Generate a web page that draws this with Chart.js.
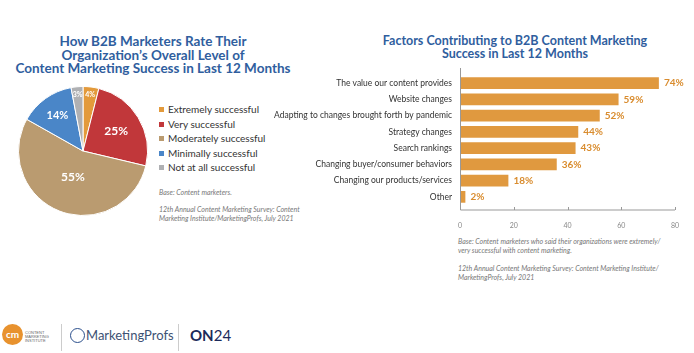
<!DOCTYPE html>
<html>
<head>
<meta charset="utf-8">
<script src="https://cdn.jsdelivr.net/npm/chart.js@4"></script>
<style>
  body { margin: 0; width: 694px; height: 353px; background: #fff; position: relative; overflow: hidden; font-family: Lato, "Open Sans", sans-serif; }
  .abs { position: absolute; }
  .title { color: #2f5e9e; font-weight: bold; text-align: center; white-space: nowrap; }
  .note { color: #777; font-style: italic; font-size: 7px; line-height: 8.5px; white-space: nowrap; }
  .legend div { height: 14.5px; line-height: 14.5px; font-size: 10px; color: #333; white-space: nowrap; }
  .legend span { display: inline-block; width: 5px; height: 5px; margin-right: 4px; vertical-align: 1px; }
</style>
</head>
<body>

<div class="abs title" style="left:0;width:306px;top:35px;font-size:13.5px;line-height:13.5px;">
  How B2B Marketers Rate Their<br>Organization’s Overall Level of<br>Content Marketing Success in Last 12 Months
</div>
<div class="abs title" style="left:340px;width:350px;top:34px;font-size:12.5px;line-height:13px;">
  Factors Contributing to B2B Content Marketing<br>Success in Last 12 Months
</div>

<canvas id="pie" class="abs" width="130" height="130" style="left:18px;top:86px;"></canvas>
<div id="legend" class="abs legend" style="left:159px;top:102px;"></div>
<div class="abs note" style="left:159px;top:188px;">Base: Content marketers.</div>
<div class="abs note" style="left:159px;top:205px;">12th Annual Content Marketing Survey: Content<br>Marketing Institute/MarketingProfs, July 2021</div>

<canvas id="bars" class="abs" width="424" height="170" style="left:270px;top:60px;"></canvas>
<div class="abs note" style="left:458px;top:237px;">Base: Content marketers who said their organizations were extremely/<br>very successful with content marketing.</div>
<div class="abs note" style="left:458px;top:264px;">12th Annual Content Marketing Survey: Content Marketing Institute/<br>MarketingProfs, July 2021</div>

<!-- logos -->
<div class="abs" style="left:2px;top:324px;width:21px;height:21px;border-radius:50%;background:#e8922e;color:#fff;font:bold 10px Lato;text-align:center;line-height:20px;">cm</div>
<div class="abs" style="left:25px;top:331px;font:4px/4px Arial;color:#666;">CONTENT<br>MARKETING<br>INSTITUTE</div>
<div class="abs" style="left:61px;top:324px;width:1px;height:27px;background:#ccc;"></div>
<div class="abs" style="left:70px;top:328px;width:13px;height:13px;border-radius:50%;border:1.5px solid #2b4f8c;background:#fff;"></div>
<div class="abs" style="left:86px;top:327px;font:13px Lato;color:#3d5274;">MarketingProfs</div>
<div class="abs" style="left:178px;top:324px;width:1px;height:27px;background:#ccc;"></div>
<div class="abs" style="left:190px;top:326px;font:15px Lato;color:#1c2a5a;"><b>ON</b>24</div>

<script>
const pieLabels = ['Extremely successful', 'Very successful', 'Moderately successful', 'Minimally successful', 'Not at all successful'];
const pieValues = [4, 25, 55, 14, 3];
const pieColors = ['#e39a3b', '#c1373a', '#ba9b70', '#4a86c8', '#afb0b3'];

const factors = ['The value our content provides', 'Website changes', 'Adapting to changes brought forth by pandemic',
  'Strategy changes', 'Search rankings', 'Changing buyer/consumer behaviors', 'Changing our products/services', 'Other'];
const factorValues = [74, 59, 52, 44, 43, 36, 18, 2];
const xTicks = [0, 20, 40, 60, 80];

// legend
const leg = document.getElementById('legend');
pieLabels.forEach((l, i) => {
  const d = document.createElement('div');
  d.innerHTML = '<span style="background:' + pieColors[i] + '"></span>' + l;
  leg.appendChild(d);
});

// labels inside slices
const sliceLabels = {
  id: 'sliceLabels',
  afterDatasetsDraw(chart, args, opts) {
    const c = chart.ctx;
    chart.getDatasetMeta(0).data.forEach((arc, i) => {
      const mid = (arc.startAngle + arc.endAngle) / 2;
      const r = arc.outerRadius * opts.pos[i];
      c.save();
      c.fillStyle = '#fff';
      c.font = 'bold ' + opts.size[i] + 'px Lato';
      c.textAlign = 'center';
      c.textBaseline = 'middle';
      c.fillText(pieValues[i] + '%', arc.x + Math.cos(mid) * r, arc.y + Math.sin(mid) * r);
      c.restore();
    });
  }
};

new Chart(document.getElementById('pie'), {
  type: 'pie',
  data: {
    labels: pieLabels,
    datasets: [{ data: pieValues, backgroundColor: pieColors, borderColor: '#fff', borderWidth: 1 }]
  },
  options: {
    responsive: false,
    animation: false,
    layout: { padding: 0 },
    plugins: {
      legend: { display: false },
      tooltip: { enabled: false },
      sliceLabels: { pos: [0.88, 0.6, 0.43, 0.68, 0.88], size: [7, 12, 12, 11, 7] }
    }
  },
  plugins: [sliceLabels]
});

// category labels, value labels and axis lines for bar chart
const barExtras = {
  id: 'barExtras',
  afterDatasetsDraw(chart) {
    const c = chart.ctx;
    const a = chart.chartArea;
    c.save();
    c.strokeStyle = '#999';
    c.lineWidth = 1;
    c.beginPath();
    c.moveTo(a.left + 0.5, a.top - 7);
    c.lineTo(a.left + 0.5, a.bottom + 5);
    c.lineTo(a.right, a.bottom + 5);
    const xs = chart.scales.x;
    xTicks.forEach(t => {
      const px = Math.round(xs.getPixelForValue(t)) + 0.5;
      c.moveTo(px, a.bottom + 5);
      c.lineTo(px, a.bottom + 2);
    });
    c.stroke();

    const ys = chart.scales.y;
    c.fillStyle = '#333';
    c.font = '8.5px Lato';
    c.textAlign = 'right';
    c.textBaseline = 'middle';
    factors.forEach((f, i) => {
      c.fillText(f, a.left - 8, ys.getPixelForValue(i));
    });

    c.fillStyle = '#d98c2e';
    c.font = 'bold 10px Lato';
    c.textAlign = 'left';
    chart.getDatasetMeta(0).data.forEach((bar, i) => {
      c.fillText(factorValues[i] + '%', bar.x + 5, bar.y);
    });
    c.restore();
  }
};

new Chart(document.getElementById('bars'), {
  type: 'bar',
  data: {
    labels: factors,
    datasets: [{ data: factorValues, backgroundColor: '#e0993f', categoryPercentage: 1, barPercentage: 0.72 }]
  },
  options: {
    indexAxis: 'y',
    responsive: false,
    animation: false,
    layout: { padding: { top: 15, right: 19, left: 0, bottom: 0 } },
    plugins: { legend: { display: false }, tooltip: { enabled: false } },
    scales: {
      x: {
        min: 0, max: 80,
        afterBuildTicks: s => { s.ticks = xTicks.map(v => ({ value: v })); },
        afterFit: s => { s.height = 25; },
        grid: { display: false },
        border: { display: false },
        ticks: { padding: 9, color: '#888', font: { size: 7, family: 'Lato' } }
      },
      y: {
        afterFit: s => { s.width = 190; },
        grid: { display: false },
        border: { display: false },
        ticks: { display: false }
      }
    }
  },
  plugins: [barExtras]
});
</script>
</body>
</html>
